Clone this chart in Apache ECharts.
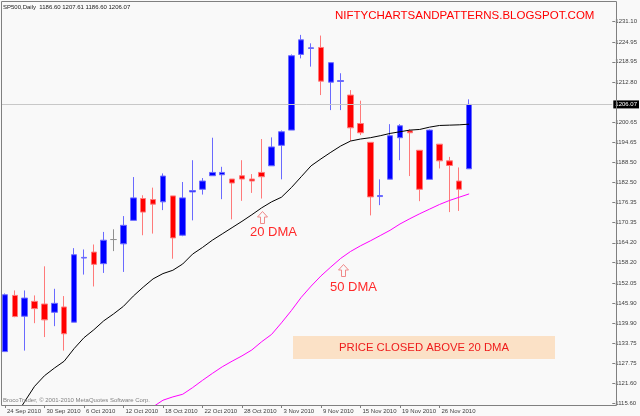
<!DOCTYPE html>
<html>
<head>
<meta charset="utf-8">
<script src="https://cdn.jsdelivr.net/npm/echarts@6/dist/echarts.min.js"></script>
<style>html,body{margin:0;padding:0;background:#f9f9f9;}#c{width:640px;height:416px;}</style>
</head>
<body>
<div id="c"></div>
<script>
const dates = ['24 Sep 2010','27 Sep 2010','28 Sep 2010','29 Sep 2010','30 Sep 2010','1 Oct 2010','4 Oct 2010','5 Oct 2010','6 Oct 2010','7 Oct 2010','8 Oct 2010','11 Oct 2010','12 Oct 2010','13 Oct 2010','14 Oct 2010','15 Oct 2010','18 Oct 2010','19 Oct 2010','20 Oct 2010','21 Oct 2010','22 Oct 2010','25 Oct 2010','26 Oct 2010','27 Oct 2010','28 Oct 2010','29 Oct 2010','1 Nov 2010','2 Nov 2010','3 Nov 2010','4 Nov 2010','5 Nov 2010','8 Nov 2010','9 Nov 2010','10 Nov 2010','11 Nov 2010','12 Nov 2010','15 Nov 2010','16 Nov 2010','17 Nov 2010','18 Nov 2010','19 Nov 2010','22 Nov 2010','23 Nov 2010','24 Nov 2010','26 Nov 2010','29 Nov 2010','30 Nov 2010','1 Dec 2010'];
const opens  = [1131.3,1148.3,1142.0,1146.5,1145.7,1143.2,1144.8,1140.2,1159.6,1161.4,1157.9,1165.2,1163.9,1171.0,1177.6,1177.3,1176.6,1178.4,1166.5,1179.6,1180.4,1184.5,1184.8,1183.5,1184.5,1183.5,1185.5,1187.5,1193.7,1198.3,1221.2,1223.0,1223.3,1212.8,1213.0,1208.9,1200.3,1194.6,1178.2,1183.45,1196.0,1198.1,1192.2,1183.4,1194.05,1189.0,1182.9,1186.60];
const highs  = [1148.9,1149.8,1149.8,1148.3,1157.1,1150.3,1148.1,1162.6,1162.2,1163.7,1167.5,1168.3,1172.3,1184.1,1178.6,1180.9,1185.2,1178.4,1182.6,1189.2,1183.8,1196.0,1187.2,1183.5,1189.2,1185.0,1195.6,1196.1,1198.2,1221.2,1227.1,1224.55,1226.9,1218.7,1215.5,1210.4,1207.2,1194.6,1183.4,1200.1,1200.1,1198.6,1192.2,1198.5,1194.05,1190.2,1187.0,1207.61];
const lows   = [1131.3,1141.7,1131.6,1139.9,1135.7,1139.0,1131.6,1140.2,1154.6,1151.0,1155.1,1161.7,1155.4,1171.0,1166.5,1167.0,1174.1,1159.4,1166.2,1171.0,1178.8,1184.5,1177.4,1171.3,1176.9,1179.3,1177.6,1187.5,1183.4,1198.3,1220.0,1217.5,1208.9,1204.35,1204.35,1195.0,1196.8,1172.5,1175.6,1183.45,1189.2,1184.4,1176.8,1183.4,1186.7,1173.5,1173.85,1186.60];
const closes = [1148.5,1141.9,1147.5,1144.3,1140.9,1145.9,1136.7,1160.6,1159.8,1157.7,1165.0,1165.2,1169.5,1177.8,1173.5,1175.9,1184.4,1165.7,1177.8,1180.0,1182.9,1185.5,1185.5,1182.3,1183.5,1182.9,1184.2,1193.2,1197.8,1220.8,1225.6,1223.2,1213.1,1218.7,1213.3,1199.0,1197.5,1178.1,1178.5,1196.6,1199.6,1197.5,1180.4,1198.3,1189.0,1187.6,1180.4,1206.07];
const ma20 = [1107.5,1111.5,1116.2,1120.8,1124.0,1126.3,1128.4,1132.2,1135.5,1137.9,1140.6,1142.7,1145.0,1148.1,1150.8,1153.3,1154.9,1155.9,1157.8,1160.8,1162.8,1165.0,1166.9,1168.8,1170.7,1172.7,1174.8,1176.6,1178.0,1180.9,1184.2,1187.5,1189.6,1191.6,1193.5,1195.0,1195.6,1196.0,1196.6,1197.3,1197.8,1198.3,1198.5,1199.2,1199.7,1199.8,1199.9,1200.1];
const ma50 = [null,null,null,null,null,null,null,null,null,null,null,null,null,null,1112.5,1114.6,1116.6,1117.6,1118.4,1120.4,1122.6,1124.7,1126.7,1128.4,1130.0,1131.8,1134.3,1136.5,1140.0,1143.7,1147.7,1151.1,1154.2,1156.9,1159.5,1161.6,1163.3,1164.8,1166.4,1168.0,1169.9,1171.5,1173.0,1174.4,1175.8,1177.0,1178.0,1179.0];
const yTickLabels = ['1231.10','1224.95','1218.95','1212.80','1200.65','1194.65','1188.50','1182.50','1176.35','1170.35','1164.20','1158.20','1152.05','1145.90','1139.90','1133.75','1127.75','1121.60','1115.60'];
const xLabelEvery = 4;

const yTickValues = yTickLabels.map(Number);
const last = closes.length - 1;
const BG = '#f9f9f9';
const chart = echarts.init(document.getElementById('c'), null, {renderer: 'canvas'});
const candleData = opens.map((o, i) => [o, closes[i], lows[i], highs[i]]);
const showIdx = (i) => i < dates.length && i % xLabelEvery === 0;
const FONT = 'Liberation Sans';
const arrowPts = (x, y) => [[x + 5, y], [x + 10, y + 5.5], [x + 7, y + 5.5], [x + 7, y + 12], [x + 3, y + 12], [x + 3, y + 5.5], [x, y + 5.5]];

chart.setOption({
  animation: false,
  backgroundColor: BG,
  grid: {left: -3, top: 2, width: 620, height: 403, containLabel: false},
  xAxis: {
    type: 'category',
    data: dates,
    max: 61,
    boundaryGap: true,
    axisLine: {show: false},
    axisTick: {show: true, alignWithLabel: true, interval: (i) => showIdx(i), length: 3, lineStyle: {color: '#808080'}},
    axisLabel: {show: true, interval: (i) => showIdx(i), align: 'left', margin: 3, padding: [0, 0, 0, 2], fontSize: 6, fontFamily: FONT, color: '#404040', formatter: (v) => v},
    splitLine: {show: false}
  },
  yAxis: {
    type: 'value',
    position: 'right',
    min: 1115.15,
    max: 1237.05,
    scale: true,
    axisLine: {show: false},
    axisTick: {show: true, length: 3, customValues: yTickValues, lineStyle: {color: '#808080'}},
    axisLabel: {show: true, customValues: yTickValues, margin: 3, fontSize: 6, fontFamily: FONT, color: '#404040',
      formatter: (v) => { const k = yTickValues.indexOf(v); return k >= 0 ? yTickLabels[k] : ''; }},
    splitLine: {show: false}
  },
  series: [
    {
      type: 'candlestick',
      data: candleData,
      barWidth: 6,
      itemStyle: {
        color: '#0000ff', color0: '#ff0000',
        borderColor: '#6a6aff', borderColor0: '#ff7a7a',
        borderColorDoji: '#909090',
        borderWidth: 1
      },
      markLine: {
        silent: true,
        symbol: ['none', 'none'],
        lineStyle: {color: '#c8c8c8', width: 1, type: 'solid'},
        label: {show: true, position: 'end', distance: 1, formatter: (p) => p.value.toFixed(2),
          color: '#ffffff', backgroundColor: '#000000', fontSize: 6, fontFamily: FONT, padding: [1, 2, 1, 2]},
        data: [{yAxis: closes[last]}]
      }
    },
    {
      type: 'line', data: ma20, symbol: 'none', smooth: false, clip: true,
      lineStyle: {color: '#000000', width: 1}
    },
    {
      type: 'line', data: ma50, symbol: 'none', smooth: false, clip: true, connectNulls: false,
      lineStyle: {color: '#ff00ff', width: 1}
    }
  ],
  graphic: [
    {type: 'rect', z: 100, shape: {x: 0, y: 0, width: 1.5, height: 416}, style: {fill: BG}},
    {type: 'rect', z: 101, shape: {x: 1.5, y: 1.5, width: 615, height: 404}, style: {fill: 'none', stroke: '#808080', lineWidth: 1}},
    {type: 'text', z: 102, x: 3, y: 7, style: {text: 'SP500,Daily  ' + [opens[last], highs[last], lows[last], closes[last]].map(v => v.toFixed(2)).join(' '), fontSize: 6, fontFamily: FONT, fill: '#202020', verticalAlign: 'middle'}},
    {type: 'text', z: 102, x: 335, y: 16, style: {text: 'NIFTYCHARTSANDPATTERNS.BLOGSPOT.COM', fontSize: 11.5, fontFamily: FONT, fill: '#ff0000', verticalAlign: 'middle'}},
    {type: 'polygon', z: 102, shape: {points: arrowPts(257.5, 211.5)}, style: {fill: 'none', stroke: '#f08888', lineWidth: 1}},
    {type: 'text', z: 102, x: 250, y: 232, style: {text: '20 DMA', fontSize: 13, fontFamily: FONT, fill: '#ff2a2a', verticalAlign: 'middle'}},
    {type: 'polygon', z: 102, shape: {points: arrowPts(338.5, 264.5)}, style: {fill: 'none', stroke: '#f08888', lineWidth: 1}},
    {type: 'text', z: 102, x: 330, y: 287, style: {text: '50 DMA', fontSize: 13, fontFamily: FONT, fill: '#ff2a2a', verticalAlign: 'middle'}},
    {type: 'rect', z: 1, shape: {x: 293, y: 336, width: 262, height: 23}, style: {fill: '#fbe1c6'}},
    {type: 'text', z: 102, x: 424, y: 347.5, style: {text: 'PRICE CLOSED ABOVE 20 DMA', fontSize: 11.3, fontFamily: FONT, fill: '#ee1c1c', align: 'center', verticalAlign: 'middle'}},
    {type: 'text', z: 102, x: 3, y: 400, style: {text: 'BrocoTrader, \u00A9 2001-2010 MetaQuotes Software Corp.', fontSize: 6, fontFamily: FONT, fill: '#808080', verticalAlign: 'middle'}}
  ]
});
</script>
</body>
</html>
